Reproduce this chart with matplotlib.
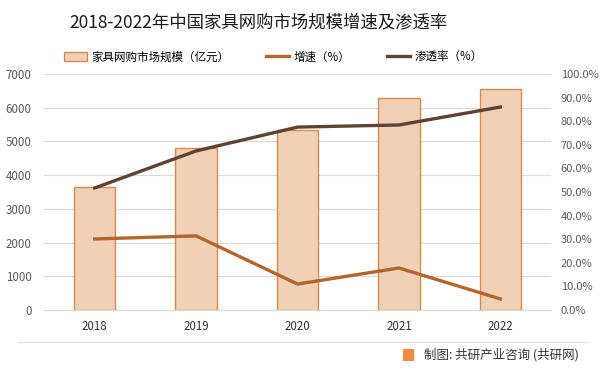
import matplotlib.pyplot as plt
from matplotlib.patches import Rectangle
from matplotlib.lines import Line2D

plt.rcParams['font.family'] = ['Noto Sans CJK SC', 'DejaVu Sans']

# 数据
years = ['2018', '2019', '2020', '2021', '2022']
market_size = [3650, 4800, 5340, 6280, 6550]        # 亿元
growth_rate = [30.1, 31.4, 11.0, 17.8, 4.7]          # %
penetration = [51.7, 67.4, 77.5, 78.4, 86.0]         # %
left_ticks = [0, 1000, 2000, 3000, 4000, 5000, 6000, 7000]
right_ticks = [0, 10, 20, 30, 40, 50, 60, 70, 80, 90, 100]

bar_fill = '#F0D1B8'
bar_edge = '#D58A4E'
growth_color = '#B4652B'
pen_color = '#5E4330'
grid_color = '#D9D9D9'
text_color = '#595959'

fig = plt.figure(figsize=(6, 3.73), dpi=100)
ax = fig.add_axes([44 / 600, 1 - 310 / 373, 507 / 600, 236 / 373])
x = list(range(len(years)))

ax.bar(x, market_size, width=0.41, color=bar_fill, edgecolor=bar_edge,
       linewidth=1.0, zorder=2)
ax.set_xlim(-0.5, 4.5)
ax.set_ylim(0, 7000)
ax.set_yticks(left_ticks)
ax.set_xticks(x)
ax.set_xticklabels(years)
ax.grid(axis='y', color=grid_color, linewidth=0.8, zorder=0)
ax.tick_params(length=0, labelsize=8.3, colors=text_color)
ax.tick_params(axis='x', colors='#333333', pad=7)
ax.tick_params(axis='y', pad=9)
for s in ax.spines.values():
    s.set_visible(False)
ax.spines['bottom'].set_visible(True)
ax.spines['bottom'].set_color(grid_color)

ax2 = ax.twinx()
ax2.plot(x, growth_rate, color=growth_color, linewidth=2.4, zorder=3)
ax2.plot(x, penetration, color=pen_color, linewidth=2.4, zorder=3)
ax2.set_ylim(0, 100)
ax2.set_yticks(right_ticks)
ax2.set_yticklabels([f'{t:.1f}%' for t in right_ticks])
ax2.tick_params(length=0, labelsize=8, colors=text_color, pad=7)
for s in ax2.spines.values():
    s.set_visible(False)

fig.text(258 / 600, 1 - 22 / 373, '2018-2022年中国家具网购市场规模增速及渗透率',
         ha='center', va='center', fontsize=12.5, color='#1a1a1a')

handles = [Rectangle((0, 0), 1, 1, facecolor=bar_fill, edgecolor=bar_edge),
           Line2D([], [], color=growth_color, linewidth=2.4),
           Line2D([], [], color=pen_color, linewidth=2.4)]
labels = ['家具网购市场规模（亿元）', '增速（%）', '渗透率（%）']
fig.legend(handles, labels, loc='center left', bbox_to_anchor=(54 / 600, 1 - 57 / 373),
           ncol=3, frameon=False, fontsize=8.3, columnspacing=3.2,
           handlelength=2.0, handletextpad=0.35)

# 底部来源
fig.add_artist(Line2D([0.03, 0.98], [1 - 342 / 373] * 2, color='#E0E0E0',
                      linewidth=0.8))
fig.add_artist(Rectangle((403 / 600, 1 - 361 / 373), 11 / 600, 12 / 373,
                         facecolor='#F08A3C', edgecolor='none'))
fig.text(424 / 600, 1 - 355 / 373, '制图: 共研产业咨询 (共研网)',
         ha='left', va='center', fontsize=9, color='#333333')

fig.savefig('out.png', dpi=100)
